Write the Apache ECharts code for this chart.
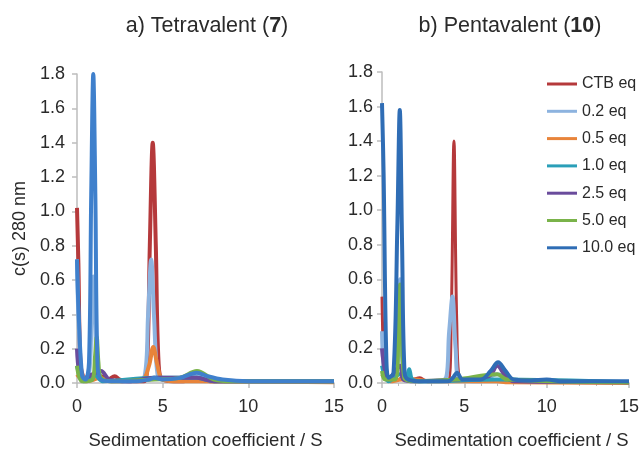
<!DOCTYPE html>
<html>
<head>
<meta charset="utf-8">
<script src="https://cdn.jsdelivr.net/npm/echarts@6/dist/echarts.min.js"></script>
<style>
  html, body { margin: 0; padding: 0; background: #fff; }
  #chart { width: 642px; height: 455px; }
</style>
</head>
<body>
<div id="chart"></div>
<script>
// 系列名称
const seriesNames = ['CTB eq', '0.2 eq', '0.5 eq', '1.0 eq', '2.5 eq', '5.0 eq', '10.0 eq'];
const colorsA = ['#b5393b', '#8db3df', '#e8843a', '#2a9fb8', '#6a4c9c', '#7ab34a', '#3f80cc'];
const colorsB = ['#b5393b', '#8db3df', '#e8843a', '#2a9fb8', '#6a4c9c', '#7ab34a', '#2f6db5'];
const xTicks = [0, 5, 10, 15];
const yTicks = [0, 0.2, 0.4, 0.6, 0.8, 1.0, 1.2, 1.4, 1.6, 1.8];

// a) Tetravalent (7)  — [s, c(s)]
const tetraCTB = [[0, 1.02], [0.08, 0.7], [0.2, 0.12], [0.4, 0.03], [0.7, 0.02], [1.0, 0.03], [1.4, 0.04], [1.8, 0.02], [2.2, 0.04], [2.5, 0.02], [3, 0.01], [3.9, 0.01], [4.1, 0.12], [4.25, 0.8], [4.42, 1.40], [4.6, 0.8], [4.76, 0.12], [5, 0.02], [6, 0.01], [7, 0.02], [8, 0.01], [15, 0.01]];
const tetra02 = [[0, 0.72], [0.12, 0.3], [0.35, 0.03], [0.7, 0.05], [0.85, 0.4], [0.95, 0.62], [1.05, 0.4], [1.2, 0.05], [1.5, 0.02], [3, 0.01], [3.95, 0.04], [4.15, 0.4], [4.33, 0.72], [4.5, 0.38], [4.7, 0.05], [5, 0.02], [7, 0.04], [8, 0.015], [15, 0.01]];
const tetra05 = [[0, 0.05], [0.5, 0.01], [1.0, 0.02], [1.3, 0.03], [2, 0.01], [3.8, 0.02], [4.2, 0.1], [4.45, 0.21], [4.7, 0.1], [5.0, 0.02], [6, 0.01], [7, 0.01], [15, 0.005]];
const tetra10 = [[0, 0.1], [0.4, 0.01], [1, 0.05], [1.5, 0.01], [4.5, 0.03], [7, 0.03], [8, 0.01], [15, 0.01]];
const tetra25 = [[0, 0.2], [0.3, 0.02], [0.9, 0.05], [1.4, 0.07], [1.9, 0.02], [3, 0.01], [4.5, 0.03], [7, 0.03], [8, 0.01], [15, 0.01]];
const tetra50 = [[0, 0.1], [0.3, 0.01], [0.9, 0.02], [1.05, 0.15], [1.15, 0.27], [1.25, 0.12], [1.4, 0.03], [2, 0.01], [4.5, 0.02], [6, 0.03], [7, 0.07], [8, 0.02], [9, 0.01], [15, 0.01]];
const tetra100 = [[0, 0.72], [0.1, 0.4], [0.3, 0.04], [0.5, 0.02], [0.7, 0.12], [0.83, 1.1], [0.95, 1.8], [1.07, 1.1], [1.2, 0.1], [1.4, 0.02], [2, 0.01], [3.5, 0.01], [4.2, 0.02], [4.5, 0.03], [5, 0.02], [6, 0.03], [7, 0.06], [7.6, 0.04], [8.5, 0.02], [10, 0.01], [15, 0.01]];

// b) Pentavalent (10)
const pentaCTB = [[0, 0.5], [0.15, 0.1], [0.4, 0.02], [1.0, 0.02], [1.4, 0.05], [1.8, 0.02], [2.3, 0.03], [2.7, 0.01], [4.0, 0.01], [4.2, 0.35], [4.37, 1.40], [4.54, 0.35], [4.75, 0.02], [6, 0.01], [7, 0.02], [15, 0.005]];
const penta02 = [[0, 0.3], [0.3, 0.02], [0.9, 0.05], [1.1, 0.6], [1.3, 0.05], [2, 0.01], [3.8, 0.02], [4.08, 0.3], [4.28, 0.5], [4.47, 0.2], [4.7, 0.02], [6, 0.01], [7, 0.05], [8, 0.01], [15, 0.005]];
const penta05 = [[0, 0.05], [0.5, 0.01], [1.2, 0.02], [2, 0.02], [3, 0.01], [4.5, 0.01], [7, 0.01], [7.5, 0.005], [15, 0]];
const penta10 = [[0, 0.1], [0.4, 0.01], [1.1, 0.05], [1.45, 0.02], [1.65, 0.08], [1.85, 0.02], [2.5, 0.01], [7, 0.02], [15, 0.005]];
const penta25 = [[0, 0.2], [0.4, 0.02], [1.1, 0.1], [1.3, 0.02], [2, 0.01], [4.5, 0.02], [6.5, 0.04], [7, 0.1], [7.5, 0.04], [8, 0.01], [15, 0.005]];
const penta50 = [[0, 0.07], [0.2, 0.02], [0.8, 0.02], [1.0, 0.3], [1.1, 0.57], [1.2, 0.3], [1.35, 0.03], [2, 0.01], [4.5, 0.02], [7, 0.05], [7.6, 0.02], [15, 0.005]];
const penta100 = [[0, 1.62], [0.1, 1.2], [0.25, 0.2], [0.4, 0.03], [0.7, 0.06], [0.93, 0.9], [1.08, 1.58], [1.22, 0.8], [1.37, 0.06], [1.6, 0.02], [2.5, 0.01], [4, 0.01], [4.3, 0.03], [4.55, 0.06], [4.9, 0.02], [6, 0.02], [6.6, 0.07], [7.05, 0.12], [7.5, 0.07], [8, 0.02], [9, 0.015], [10, 0.02], [11, 0.01], [15, 0.01]];

const tetraData = [tetraCTB, tetra02, tetra05, tetra10, tetra25, tetra50, tetra100];
const pentaData = [pentaCTB, penta02, penta05, penta10, penta25, penta50, penta100];

const font = 'Liberation Sans, Arial, sans-serif';
const axisColor = '#bdbdbd';
const textColor = '#2a2a2a';

function makeX(gridIndex, minor, namePad) {
  return {
    type: 'value', gridIndex, min: xTicks[0], max: xTicks[xTicks.length - 1], interval: 5,
    name: 'Sedimentation coefficient / S', nameLocation: 'middle', nameGap: 48,
    nameTextStyle: { fontSize: 18.5, color: textColor, fontFamily: font, padding: namePad },
    axisLine: { show: true, lineStyle: { color: axisColor, width: 1.5 } },
    axisTick: { show: true, length: 5, lineStyle: { color: axisColor, width: 1.5 } },
    minorTick: { show: minor, splitNumber: 5, length: 3, lineStyle: { color: axisColor } },
    axisLabel: { fontSize: 18, color: textColor, fontFamily: font, margin: 15 },
    splitLine: { show: false },
  };
}
function makeY(gridIndex, withName, margin) {
  return {
    type: 'value', gridIndex, min: yTicks[0], max: yTicks[yTicks.length - 1], interval: 0.2,
    name: withName ? 'c(s) 280 nm' : '', nameLocation: 'middle', nameGap: 48,
    nameTextStyle: { fontSize: 18, color: textColor, fontFamily: font },
    axisLine: { show: true, lineStyle: { color: axisColor, width: 1.5 } },
    axisTick: { show: true, length: 5, lineStyle: { color: axisColor, width: 1.5 } },
    axisLabel: { fontSize: 18, color: textColor, fontFamily: font, margin, formatter: v => v.toFixed(1) },
    splitLine: { show: false },
  };
}

const series = [];
// 先放 b 面板，图例颜色取自它
pentaData.forEach((d, i) => {
  series.push({
    name: seriesNames[i], type: 'line', xAxisIndex: 1, yAxisIndex: 1, data: d,
    smooth: 0.35, showSymbol: false, silent: true,
    lineStyle: { color: colorsB[i], width: i === 0 ? 3 : 4 }, itemStyle: { color: colorsB[i] },
  });
});
tetraData.forEach((d, i) => {
  series.push({
    name: seriesNames[i], type: 'line', xAxisIndex: 0, yAxisIndex: 0, data: d,
    smooth: 0.35, showSymbol: false, silent: true,
    lineStyle: { color: colorsA[i], width: 4 }, itemStyle: { color: colorsA[i] },
  });
});

const titleRich = {
  n: { fontSize: 21.5, fontWeight: 'normal', color: textColor, fontFamily: font },
  b: { fontSize: 21.5, fontWeight: 'bold', color: textColor, fontFamily: font },
};

const chart = echarts.init(document.getElementById('chart'), null, { renderer: 'canvas' });
chart.setOption({
  backgroundColor: '#fff',
  animation: false,
  title: [
    {
      text: '{n|a) Tetravalent (}{b|7}{n|)}', left: 202, top: 10, textAlign: 'center',
      textStyle: { fontWeight: 'normal', rich: titleRich },
    },
    {
      text: '{n|b) Pentavalent (}{b|10}{n|)}', left: 505, top: 10, textAlign: 'center',
      textStyle: { fontWeight: 'normal', rich: titleRich },
    },
  ],
  legend: {
    data: seriesNames, orient: 'vertical', left: 542, top: 70,
    icon: 'rect', itemWidth: 30, itemHeight: 3, itemGap: 9.3,
    textStyle: { fontSize: 16, color: textColor, fontFamily: font, lineHeight: 18 },
  },
  grid: [
    { left: 77, top: 74, width: 257, height: 314 },
    { left: 382, top: 72, width: 247, height: 312 },
  ],
  xAxis: [makeX(0, false, 0), makeX(1, true, [0, 0, 0, 12])],
  yAxis: [makeY(0, true, 12), makeY(1, false, 9)],
  series,
});
</script>
</body>
</html>
